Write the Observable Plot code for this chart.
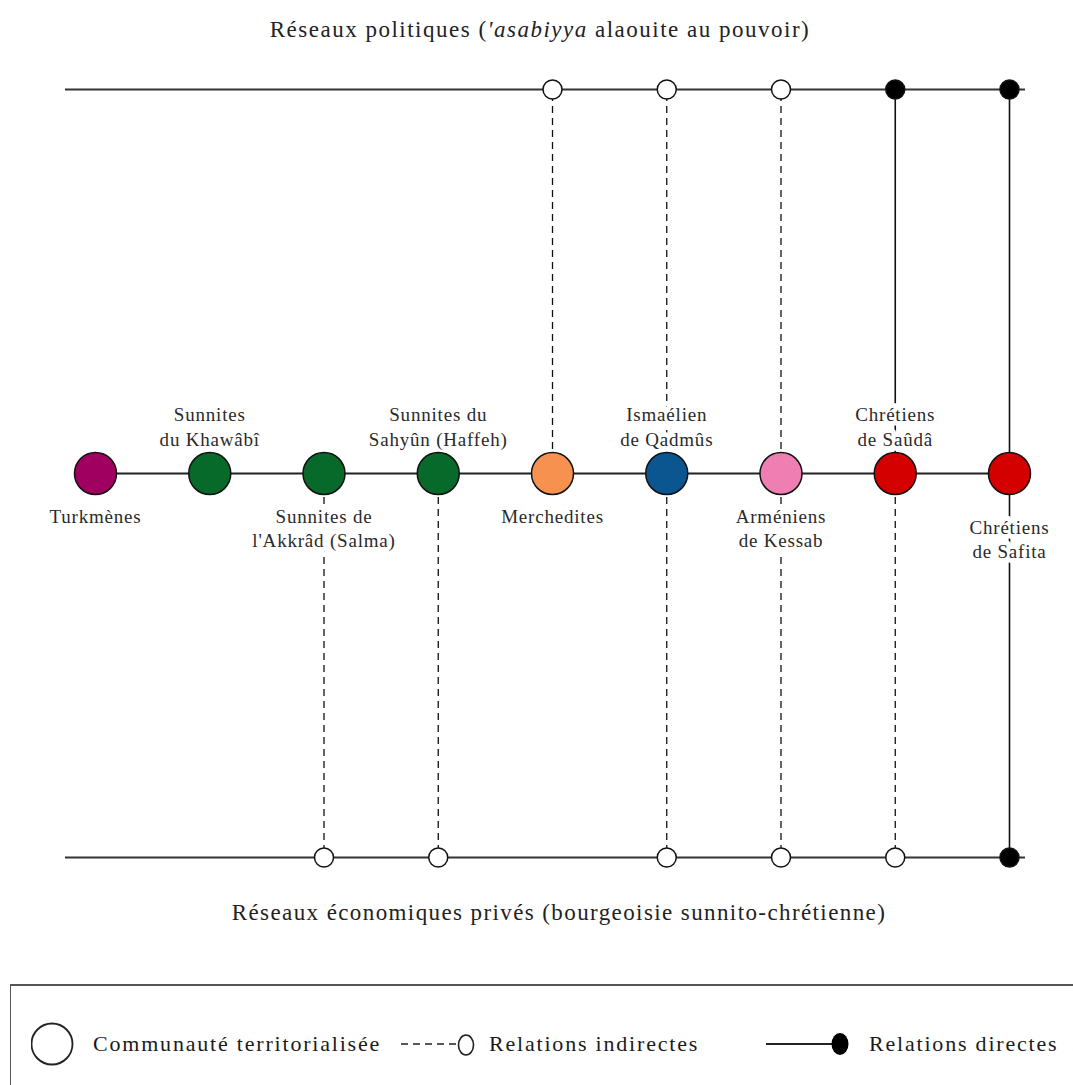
<!DOCTYPE html>
<html>
<head>
<meta charset="utf-8">
<script src="https://cdn.jsdelivr.net/npm/d3@7"></script>
<script src="https://cdn.jsdelivr.net/npm/@observablehq/plot@0.6"></script>
<style>
  html, body { margin: 0; padding: 0; background: #fff; }
  body { width: 1073px; height: 1085px; position: relative; overflow: hidden; font-family: "Liberation Serif", "Times New Roman", serif; color: #222; }
  #title { position: absolute; left: 0; top: 0; width: 1073px; height: 60px; line-height: 60px; text-align: center; font-size: 23px; letter-spacing: 1.5px; padding-left: 7px; box-sizing: border-box; }
  #chart { position: absolute; left: 0; top: 60px; }
  #chart svg text { letter-spacing: 0.8px; }
  #caption { position: absolute; left: 0; top: 890px; width: 1073px; height: 46px; line-height: 46px; text-align: center; font-size: 23px; letter-spacing: 1.4px; padding-left: 45px; box-sizing: border-box; }
  #legend { position: absolute; left: 10px; top: 984px; width: 1100px; height: 200px; border-top: 2px solid #555; border-left: 1px solid #555; }
  .item { position: absolute; top: 36px; height: 44px; display: flex; align-items: center; font-size: 22px; letter-spacing: 1.8px; color: #1a1a1a; }
</style>
</head>
<body>
<div id="title">Réseaux politiques (<i>'asabiyya</i> alaouite au pouvoir)</div>
<div id="chart"></div>
<div id="caption">Réseaux économiques privés (bourgeoisie sunnito-chrétienne)</div>
<div id="legend"></div>
<script>
// Communities, in order along the central line
const communities = ["Turkmènes", "Sunnites du Khawâbî", "Sunnites de l'Akkrâd (Salma)", "Sunnites du Sahyûn (Haffeh)", "Merchedites", "Ismaélien de Qadmûs", "Arméniens de Kessab", "Chrétiens de Saûdâ", "Chrétiens de Safita"];
const labels = ["Turkmènes", "Sunnites\ndu Khawâbî", "Sunnites de\nl'Akkrâd (Salma)", "Sunnites du\nSahyûn (Haffeh)", "Merchedites", "Ismaélien\nde Qadmûs", "Arméniens\nde Kessab", "Chrétiens\nde Saûdâ", "Chrétiens\nde Safita"];
const labelSide = ["below", "above", "below", "above", "below", "above", "below", "above", "below"];
const colors = ["#a00060", "#076a2a", "#076a2a", "#076a2a", "#f79150", "#0b5590", "#ef7fb2", "#d40000", "#d40000"];
// Relations with the political network ('asabiyya alaouite) : "indirect" | "direct" | null
const political = [null, null, null, null, "indirect", "indirect", "indirect", "direct", "direct"];
// Relations with the private economic network
const economic = [null, null, "indirect", "indirect", null, "indirect", "indirect", "indirect", "direct"];

const nodes = communities.map((name, i) => ({i, name, label: labels[i], side: labelSide[i], color: colors[i]}));
const links = [];
communities.forEach((name, i) => {
  if (political[i]) links.push({i, level: 2, type: political[i]});
  if (economic[i]) links.push({i, level: 0, type: economic[i]});
});

const FONT = "Liberation Serif, Times New Roman, serif";
const W = 1073, H = 830;
const labelStyle = {fontSize: 19, lineHeight: 1.28, fill: "#2a2a2a", stroke: "white", strokeWidth: 10};

const chart = Plot.plot({
  width: W, height: H,
  marginLeft: 65, marginRight: 48, marginTop: 0, marginBottom: 0,
  x: {domain: [0, 8], range: [95, 1009], axis: null},
  y: {domain: [0, 2], range: [797, 29], axis: null},
  style: {fontFamily: FONT, background: "white"},
  marks: [
    // the two networks
    Plot.ruleY([0, 2], {stroke: "#333", strokeWidth: 2}),
    // connections
    Plot.ruleX(links.filter(d => d.type === "indirect"), {x: "i", y1: 1, y2: "level", stroke: "#111", strokeWidth: 1.3, strokeDasharray: "7,5"}),
    Plot.ruleX(links.filter(d => d.type === "direct"), {x: "i", y1: 1, y2: "level", stroke: "#111", strokeWidth: 1.6}),
    // central line of communities
    Plot.line(nodes, {x: "i", y: 1, stroke: "#222", strokeWidth: 1.8}),
    // labels (white halo interrupts the connectors)
    Plot.text(nodes.filter(d => d.side === "above"), {x: "i", y: 1, text: "label", lineAnchor: "bottom", dy: -28, ...labelStyle}),
    Plot.text(nodes.filter(d => d.side === "below" && d.i !== 8), {x: "i", y: 1, text: "label", lineAnchor: "top", dy: 32, ...labelStyle}),
    Plot.text(nodes.filter(d => d.i === 8), {x: "i", y: 1, text: "label", lineAnchor: "top", dy: 43, ...labelStyle}),
    // communities
    Plot.dot(nodes, {x: "i", y: 1, r: 21, fill: "color", stroke: "#111", strokeWidth: 1.5}),
    // relation end points
    Plot.dot(links, {x: "i", y: "level", r: 9.5, fill: d => d.type === "direct" ? "black" : "white", stroke: "#111", strokeWidth: 1.5})
  ],
  color: {type: "identity"}
});
document.getElementById("chart").appendChild(chart);

// Legend
const legendItems = [
  {label: "Communauté territorialisée", kind: "community"},
  {label: "Relations indirectes", kind: "indirect"},
  {label: "Relations directes", kind: "direct"}
];
const legendLeft = [20, 388, 753];
const legend = document.getElementById("legend");
legendItems.forEach((it, k) => {
  const div = document.createElement("div");
  div.className = "item";
  div.style.left = legendLeft[k] + "px";
  let sym;
  if (it.kind === "community") {
    sym = `<svg width="62" height="44"><circle cx="21" cy="22" r="20.5" fill="white" stroke="#222" stroke-width="1.8"/></svg>`;
  } else if (it.kind === "indirect") {
    sym = `<svg width="90" height="44"><line x1="2" y1="22" x2="60" y2="22" stroke="#222" stroke-width="1.6" stroke-dasharray="7,5"/><ellipse cx="67" cy="23" rx="7.5" ry="10" fill="white" stroke="#222" stroke-width="1.6"/></svg>`;
  } else {
    sym = `<svg width="105" height="44"><line x1="2" y1="22" x2="70" y2="22" stroke="#222" stroke-width="2"/><ellipse cx="76" cy="22" rx="8.5" ry="11" fill="black"/></svg>`;
  }
  div.innerHTML = sym + `<span>${it.label}</span>`;
  legend.appendChild(div);
});
</script>
</body>
</html>
